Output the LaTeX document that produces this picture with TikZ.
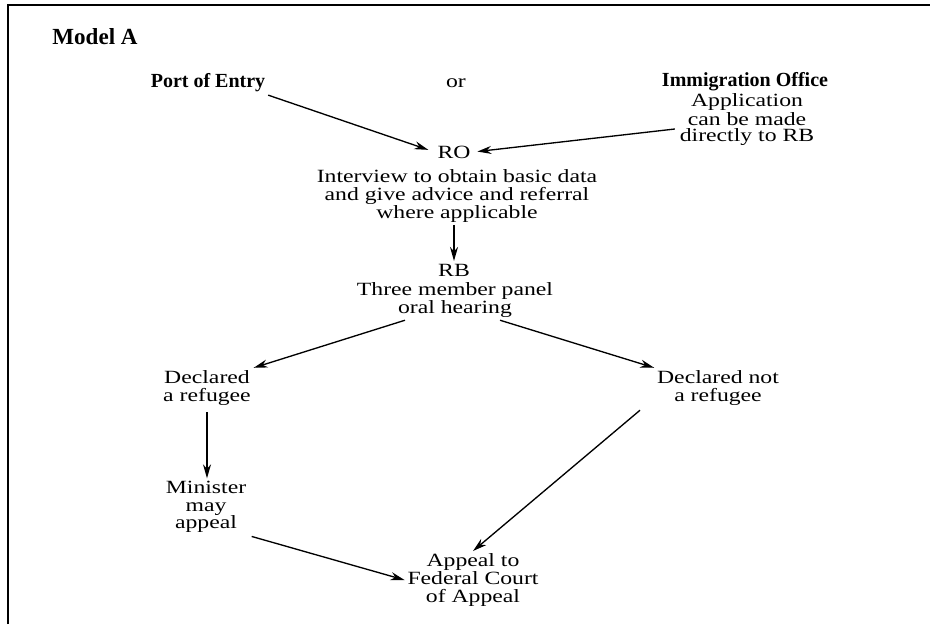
\documentclass[tikz,border=0pt]{standalone}
\usepackage{fontspec}
\setmainfont{Liberation Serif}[FakeStretch = 1.27, BoldFeatures = {FakeStretch = 1.0}]
\usetikzlibrary{arrows.meta}
\usetikzlibrary{positioning}
\tikzset{txt/.style = {align = center, inner sep = 2pt, font = \fontsize{14}{13.2}\selectfont}}
\tikzset{hdr/.style = {txt, font = \fontsize{15}{13.2}\selectfont\bfseries}}
\tikzset{arr/.style = {-{Stealth[length = 10.5pt, width = 6pt]}, line width = 1pt}}

\begin{document}
\begin{tikzpicture}[x = 0.75pt, y = -0.75pt]
      \useasboundingbox (0, 0) rectangle (930, 624);
      \draw [line width = 1.4pt] (8, 624) -- (8, 5) -- (930, 5);
      \node [hdr, font = \fontsize{17.3}{17}\selectfont\bfseries\addfontfeature{FakeStretch = 1.15}] (title) at (95, 37) {Model A};
      \node [hdr] (port) at (208, 83) {Port of Entry};
      \node [txt] (or) at (456, 83) {or};
      \node [hdr] (imm) at (745, 82) {Immigration Office};
      \node [txt, font = \fontsize{14}{12.6}\selectfont] (appl) at (747, 120) {Application\\can be made\\directly to RB};
      \node [txt] (ro) at (454, 152) {RO};
      \node [txt] (intv) at (457, 196) {Interview to obtain basic data\\and give advice and referral\\where applicable};
      \node [txt] (rb) at (454, 270) {RB};
      \node [txt] (panel) at (455, 300) {Three member panel\\oral hearing};
      \node [txt] (decl) at (207, 388) {Declared\\a refugee};
      \node [txt] (notref) at (718, 388) {Declared not\\a refugee};
      \node [txt] (minister) at (206, 507) {Minister\\may\\appeal};
      \node [txt] (court) at (473, 580) {Appeal to\\Federal Court\\of Appeal};
      \draw [arr, shorten > = 5pt] (port.south east) -- (ro.west);
      \draw [arr, shorten > = 3pt] (appl.west) ++(-2, 9) coordinate (a1) -- (ro.east);
      \draw [arr] (intv.south -| ro) -- (rb.north);
      \draw [arr] (panel.south) ++(-50, 0) coordinate (p1) -- (decl.north east);
      \draw [arr] (panel.south) ++(45, 0) coordinate (p2) -- (notref.north west);
      \draw [arr, shorten < = 3pt] (decl.south) -- (decl.south |- minister.north);
      \draw [arr, shorten < = 2pt] (minister.south east) -- (court.west);
      \draw [arr] (notref.south) ++(-78, 2) coordinate (n1) -- (court.north);
    \end{tikzpicture}
\end{document}
